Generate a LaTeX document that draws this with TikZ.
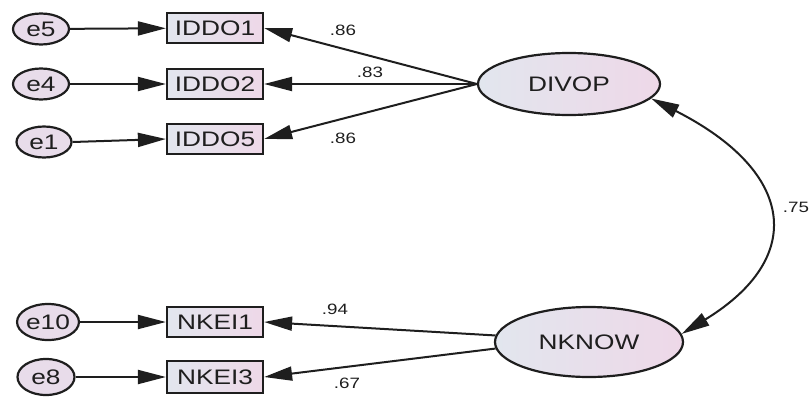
\documentclass[tikz,border=0pt]{standalone}
\usepackage{fontspec}
\setmainfont{Liberation Sans}[FakeStretch=1.25]
\usetikzlibrary{shapes.geometric,arrows.meta}
\definecolor{lblue}{HTML}{E2E6EE}
\definecolor{lpink}{HTML}{EED8E8}
\definecolor{epink}{HTML}{E8DCEA}
\definecolor{ink}{HTML}{1E1E1E}
\tikzset{
  every node/.style={text=ink},
  errnode/.style={ellipse,draw=ink,line width=2.2pt,fill=epink,inner sep=0pt,font=\fontsize{21}{24}\selectfont},
  obsnode/.style={rectangle,draw=ink,line width=2.2pt,left color=lblue,right color=lpink,inner sep=0pt,minimum width=96pt,minimum height=30pt,font=\fontsize{21}{24}\selectfont},
  latnode/.style={ellipse,draw=ink,line width=2.2pt,left color=lblue,right color=lpink,inner sep=0pt,font=\fontsize{21}{24}\selectfont},
  path/.style={draw=ink,line width=2pt,-{Triangle[length=28pt,width=14pt]}},
  cov/.style={draw=ink,line width=2pt,{Triangle[length=28pt,width=14pt]}-{Triangle[length=28pt,width=14pt]}},
  coef/.style={font=\fontsize{15}{17}\selectfont,inner sep=0pt}
}
\begin{document}
\begin{tikzpicture}[x=1pt,y=-1pt]
\useasboundingbox (0,0) rectangle (810,399);
\node[errnode,minimum width=56pt,minimum height=31pt] (e5) at (41,29) {e5};
\node[errnode,minimum width=56pt,minimum height=31pt] (e4) at (41,84) {e4};
\node[errnode,minimum width=55pt,minimum height=31pt] (e1) at (44,142) {e1};
\node[errnode,minimum width=60pt,minimum height=36pt] (e10) at (48,322) {e10};
\node[errnode,minimum width=57pt,minimum height=36pt] (e8) at (46,377) {e8};
\node[obsnode] (IDDO1) at (215,28) {IDDO1};
\node[obsnode] (IDDO2) at (215,84) {IDDO2};
\node[obsnode] (IDDO5) at (215,139) {IDDO5};
\node[obsnode] (NKEI1) at (215,322) {NKEI1};
\node[obsnode,minimum height=32pt] (NKEI3) at (215,377) {NKEI3};
\node[latnode,minimum width=182pt,minimum height=62pt] (DIVOP) at (569,84) {DIVOP};
\node[latnode,minimum width=188pt,minimum height=70pt] (NKNOW) at (589,342) {NKNOW};
\draw[path] (e5) -- (IDDO1);
\draw[path] (e4) -- (IDDO2);
\draw[path] (e1.east) -- (IDDO5.west);
\draw[path] (e10) -- (NKEI1);
\draw[path] (e8) -- (NKEI3);
\draw[path] (DIVOP.west) -- (IDDO1.east);
\draw[path] (DIVOP.west) -- (IDDO2.east);
\draw[path] (DIVOP.west) -- (IDDO5.east);
\draw[path] (NKNOW.176) -- (NKEI1.east);
\draw[path] (NKNOW.184) -- (NKEI3.east);
\draw[cov] (DIVOP.-10) .. controls (796,172) and (806,258) .. (NKNOW.5);
\node[coef] (c1) at (343,30) {.86};
\node[coef] (c2) at (370,72) {.83};
\node[coef] (c3) at (343,138) {.86};
\node[coef] (c4) at (335,309) {.94};
\node[coef] (c5) at (347,383) {.67};
\node[coef] (c6) at (796,207) {.75};
\end{tikzpicture}
\end{document}
